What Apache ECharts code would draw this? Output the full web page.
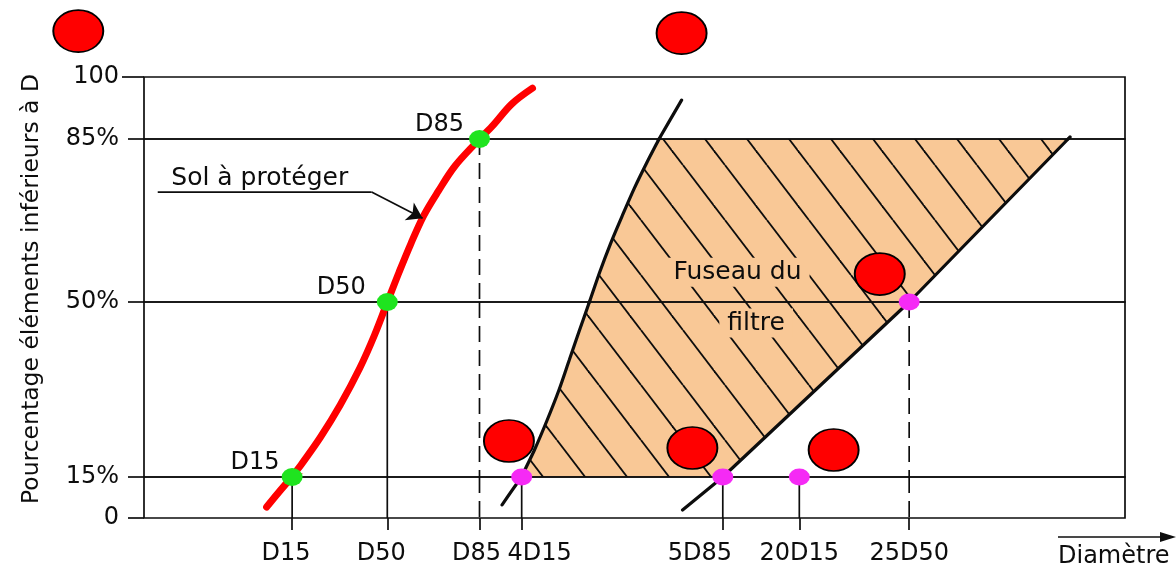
<!DOCTYPE html>
<html>
<head>
<meta charset="utf-8">
<script src="https://cdn.jsdelivr.net/npm/echarts@6/dist/echarts.min.js"></script>
<style>
  html, body { margin: 0; padding: 0; background: #ffffff; }
  #chart { width: 1176px; height: 573px; }
</style>
</head>
<body>
<div id="chart"></div>
<script>
// Percentage axis: tick values and their printed labels
const yTicks = [0, 15, 50, 85, 100];
const yTickLabels = ['0', '15%', '50%', '85%', '100'];

// Diameter axis (relative units across the frame) and its named ticks
const xTickNames = ['D15', 'D50', 'D85', '4D15', '5D85', '20D15', '25D50'];
const xTickValues = [15.1, 24.8, 34.2, 38.5, 59.0, 66.8, 78.0];

// Grading curve of the soil to protect: [diameter, % finer]
const soilCurve = [
  [12.5, 4], [15.1, 15], [16.0, 17.4], [18.0, 23], [20.0, 29.4], [22.0, 36.8],
  [23.5, 43.4], [24.8, 50], [26.0, 56.4], [27.2, 62.5], [28.5, 68.5], [30.0, 73.8],
  [31.7, 79.2], [34.2, 85], [35.5, 88.1], [37.5, 93.5], [39.6, 97.3]
];

// Filter envelope: fine-side limit and coarse-side limit
const filterFine = [
  [36.5, 4.8], [38.5, 15], [39.8, 20.4], [41.1, 26.4], [42.3, 32.4], [43.35, 38.4], [44.4, 44.4],
  [45.4, 50], [46.45, 56.4], [47.55, 62.5], [48.75, 68.5], [50.0, 74.5], [51.25, 79.9], [52.5, 85], [54.8, 94.4]
];
const filterCoarse = [[54.9, 2.9], [59.0, 15], [78.0, 50], [94.2, 85], [94.4, 85.5]];

// Characteristic points of the soil and filter criteria: [name, diameter, %]
const soilPoints = [['D15', 15.1, 15], ['D50', 24.8, 50], ['D85', 34.2, 85]];
const criteriaPoints = [['4D15', 38.5, 15], ['5D85', 59.0, 15], ['20D15', 66.8, 15], ['25D50', 78.0, 50]];
const dashedDrops = ['D85', '25D50'];

// Red badges: [diameter, %]
const badges = [[-6.7, 111.1], [54.8, 110.6], [37.2, 22.2], [55.9, 20.8], [70.3, 20.4], [75.0, 56.0]];

// Text notes: [text, diameter, %]
const notes = [['Sol à protéger', 11.8, 76.6], ['Fuseau du', 60.5, 56.4], ['filtre', 62.4, 45.8]];
// Leader from the "Sol à protéger" note to the soil curve
const leader = [[1.4, 73.6], [23.2, 73.6], [28.4, 68.0]];

const FONT = 'DejaVu Sans';
const INK = '#0d0d0d';
const ORANGE = '#f9c896';
const ELLIPSE = 'path://M50,0A50,50,0,1,1,50,100A50,50,0,1,1,50,0Z';

// The ordinate is drawn piecewise: one grid per band between percentage ticks.
const bandPx = [518, 477, 302, 139, 77];
const bands = yTicks.slice(0, -1).map((v, i) => [v, yTicks[i + 1]]);
function bandOf(y) {
  for (let i = 0; i < bands.length; i++) {
    if (y >= bands[i][0] && y < bands[i][1]) return i;
  }
  return y < 0 ? 0 : bands.length - 1;
}

// Hatch tile for the filter envelope
const hatch = document.createElement('canvas');
hatch.width = 42; hatch.height = 55;
(function () {
  const c = hatch.getContext('2d');
  c.strokeStyle = INK; c.lineWidth = 1.8;
  const dx = 10.9;
  for (let k = -2; k <= 1; k++) {
    c.beginPath();
    c.moveTo(dx + 42 * k, 0);
    c.lineTo(dx + 42 * k + 42, 55);
    c.stroke();
  }
})();

// Envelope polygon between 15 % and 85 %
const fuseau = filterFine.filter(p => p[1] >= 15 && p[1] <= 85)
  .concat(filterCoarse.filter(p => p[1] >= 15 && p[1] <= 85).reverse());

const soilLabelGap = { D15: 2, D50: 11, D85: 5 };

// Tick labels that sit off-centre from their tick (rich padding shifts them)
const tickLabelRich = {
  padL36: { padding: [0, 0, 0, 36] },
  padR46: { padding: [0, 46, 0, 0] },
  padR12: { padding: [0, 12, 0, 0] },
  padR6: { padding: [0, 6, 0, 0] }
};
const tickLabelStyle = { '4D15': 'padL36', '5D85': 'padR46', 'D15': 'padR12', 'D50': 'padR12', 'D85': 'padR6' };
Object.values(tickLabelRich).forEach(r => Object.assign(r, { fontSize: 24, fontFamily: FONT, color: INK }));

const grid = [], xAxis = [], yAxis = [], series = [];

bands.forEach((b, i) => {
  grid.push({
    left: 144, width: 981, top: bandPx[i + 1], height: bandPx[i] - bandPx[i + 1],
    show: true, borderColor: INK, borderWidth: 1.7, backgroundColor: 'transparent'
  });
  xAxis.push({
    type: 'value', gridIndex: i, min: 0, max: 100, show: i === 0,
    axisLine: { show: false }, splitLine: { show: false },
    axisTick: { show: true, customValues: xTickValues, length: 12, lineStyle: { color: INK, width: 1.7 } },
    axisLabel: {
      customValues: xTickValues,
      formatter: v => {
        const n = xTickNames[xTickValues.indexOf(v)];
        const s = tickLabelStyle[n];
        return s ? '{' + s + '|' + n + '}' : n;
      },
      rich: tickLabelRich,
      margin: 24, fontSize: 24, fontFamily: FONT, color: INK
    }
  });
  const ticks = i === 0 ? [b[0], b[1]] : [b[1]];
  yAxis.push({
    type: 'value', gridIndex: i, min: b[0], max: b[1],
    axisLine: { show: false }, splitLine: { show: false },
    axisTick: { show: true, customValues: ticks, length: i === bands.length - 1 ? 22 : 16, lineStyle: { color: INK, width: 1.7 } },
    axisLabel: {
      customValues: ticks, formatter: v => yTickLabels[yTicks.indexOf(v)],
      margin: 25, fontSize: 24, fontFamily: FONT, color: INK
    }
  });

  const ax = { xAxisIndex: i, yAxisIndex: i };

  // hatched filter envelope
  if (b[1] > 15 && b[0] < 85) {
    series.push({
      type: 'custom', ...ax, z: -1, silent: true, data: fuseau,
      renderItem(params, api) {
        if (params.dataIndex !== 0) return null;
        const cs = params.coordSys;
        const pts = fuseau.map(p => {
          const c = api.coord(p);
          return [c[0], Math.min(Math.max(c[1], cs.y), cs.y + cs.height)];
        });
        return {
          type: 'group', children: [
            { type: 'polygon', shape: { points: pts }, style: { fill: ORANGE } },
            { type: 'polygon', shape: { points: pts }, style: { fill: { image: hatch, repeat: 'repeat' } } }
          ]
        };
      }
    });
  }

  // drop lines from characteristic points to the diameter axis
  soilPoints.concat(criteriaPoints).forEach(([name, x, y]) => {
    if (y <= b[0]) return;
    series.push({
      type: 'line', ...ax, silent: true, symbol: 'none', z: 2,
      data: [[x, Math.min(y, b[1])], [x, b[0]]],
      lineStyle: { color: INK, width: 1.7, type: dashedDrops.includes(name) ? [16, 8] : 'solid' }
    });
  });

  // soil curve and filter limits
  series.push({
    type: 'line', ...ax, name: 'Sol à protéger', data: soilCurve, smooth: 0.35, symbol: 'none', z: 3,
    lineStyle: { color: '#ff0000', width: 7, cap: 'round' }
  });
  series.push({
    type: 'line', ...ax, data: filterFine, smooth: 0.3, symbol: 'none', z: 3,
    lineStyle: { color: INK, width: 3.2, cap: 'round' }
  });
  series.push({
    type: 'line', ...ax, data: filterCoarse, symbol: 'none', z: 3,
    lineStyle: { color: INK, width: 3.2, cap: 'round' }
  });

  // characteristic points
  const soilHere = soilPoints.filter(p => bandOf(p[2]) === i);
  if (soilHere.length) series.push({
    type: 'scatter', ...ax, clip: false, z: 5, symbol: ELLIPSE, symbolSize: [21, 18],
    itemStyle: { color: '#1fe41f', opacity: 1 },
    data: soilHere.map(([name, x, y]) => ({
      name, value: [x, y],
      label: {
        show: true, formatter: name, position: 'left', distance: soilLabelGap[name], offset: [0, -14],
        fontSize: 24, fontFamily: FONT, color: INK
      }
    }))
  });
  const critHere = criteriaPoints.filter(p => bandOf(p[2]) === i);
  if (critHere.length) series.push({
    type: 'scatter', ...ax, clip: false, z: 5, symbol: ELLIPSE, symbolSize: [21, 17],
    itemStyle: { color: '#f52af5', opacity: 1 },
    data: critHere.map(([name, x, y]) => ({ name, value: [x, y] }))
  });

  // red badges
  const badgeHere = badges.filter(p => bandOf(p[1]) === i);
  if (badgeHere.length) series.push({
    type: 'scatter', ...ax, clip: false, z: 10,
    symbol: ELLIPSE, symbolSize: [50, 42],
    itemStyle: { color: '#ff0000', borderColor: '#000000', borderWidth: 1.8, opacity: 1 },
    data: badgeHere
  });

  // notes
  const notesHere = notes.filter(p => bandOf(p[2]) === i);
  if (notesHere.length) series.push({
    type: 'scatter', ...ax, clip: false, z: 4, symbolSize: 0,
    itemStyle: { opacity: 1 },
    data: notesHere.map(([text, x, y]) => ({
      name: text, value: [x, y],
      label: {
        show: true, formatter: text, position: 'inside', fontSize: 25, fontFamily: FONT, color: INK,
        backgroundColor: text === 'Sol à protéger' ? 'transparent' : ORANGE, padding: [2, 8]
      }
    }))
  });

  // leader line with arrow
  if (bandOf(leader[0][1]) === i) series.push({
    type: 'line', ...ax, silent: true, symbol: 'none', z: 4, data: leader.slice(0, 2),
    lineStyle: { color: INK, width: 1.7 },
    markLine: {
      silent: true, symbol: ['none', 'arrow'], symbolSize: 15,
      lineStyle: { color: INK, width: 1.7, type: 'solid' }, label: { show: false },
      data: [[{ coord: leader[1] }, { coord: leader[2] }]]
    }
  });
});

const chart = echarts.init(document.getElementById('chart'));
chart.setOption({
  animation: false,
  backgroundColor: '#ffffff',
  grid, xAxis, yAxis, series,
  graphic: [
    {
      type: 'text', x: 32, y: 289, rotation: Math.PI / 2,
      style: {
        text: 'Pourcentage éléments inférieurs à D', fontSize: 23.5, fontFamily: FONT, fill: INK,
        align: 'center', verticalAlign: 'middle'
      }
    },
    {
      type: 'text', x: 1058, y: 557,
      style: { text: 'Diamètre', fontSize: 24, fontFamily: FONT, fill: INK, align: 'left', verticalAlign: 'middle' }
    },
    { type: 'line', shape: { x1: 1058, y1: 537, x2: 1164, y2: 537 }, style: { stroke: INK, lineWidth: 1.7 } },
    { type: 'polygon', shape: { points: [[1176, 537], [1160, 532], [1160, 542]] }, style: { fill: INK } }
  ]
});
</script>
</body>
</html>
